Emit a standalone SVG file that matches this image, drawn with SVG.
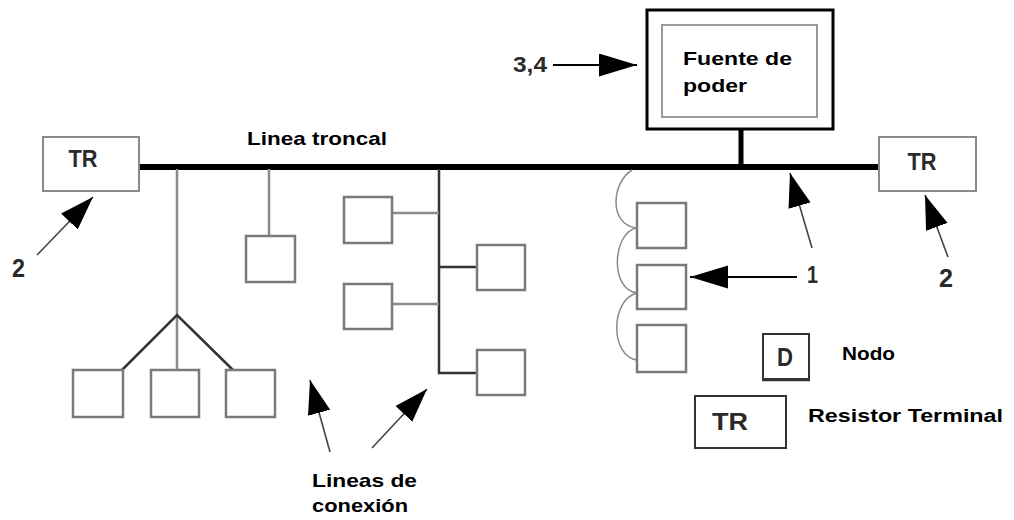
<svg xmlns="http://www.w3.org/2000/svg" width="1014" height="520" viewBox="0 0 1014 520">
<style>
.bx{fill:#fff;stroke:#7a7a7a;stroke-width:2.5}
.g{stroke:#8a8a8a;stroke-width:2.5;fill:none}
.d{stroke:#333;stroke-width:2.5;fill:none}
.cv{stroke:#8a8a8a;stroke-width:1.5;fill:none}
.b{font-family:"Liberation Sans",Arial,sans-serif;font-weight:bold;fill:#000}
.n{font-family:"Liberation Sans",Arial,sans-serif;font-weight:bold;fill:#2a2a2a}
.al{stroke:#444;stroke-width:1.6;fill:none}
.ak{stroke:#000;stroke-width:2.2;fill:none}
</style>
<defs>
<marker id="ah" markerUnits="userSpaceOnUse" markerWidth="40" markerHeight="24" refX="38" refY="11.5" orient="auto"><path d="M0,0 L38,11.5 L0,23 z" fill="#000"/></marker>
<marker id="ahs" markerUnits="userSpaceOnUse" markerWidth="36" markerHeight="24" refX="34" refY="11.5" orient="auto"><path d="M0,0 L34,11.5 L0,23 z" fill="#000"/></marker>
</defs>
<rect width="1014" height="520" fill="#fff"/>
<g id="connectors">
<line x1="133" y1="167" x2="881" y2="167" stroke="#000" stroke-width="6"/>
<line x1="741" y1="128" x2="741" y2="167" stroke="#000" stroke-width="5"/>
<line class="g" x1="177" y1="169" x2="177" y2="370"/>
<polyline class="d" points="122,370 177,315 233,370"/>
<line class="g" x1="269" y1="169" x2="269" y2="236"/>
<polyline class="d" points="439,169 439,373 477,373"/>
<line class="d" x1="439" y1="267" x2="477" y2="267"/>
<line class="g" x1="392" y1="213" x2="439" y2="213"/>
<line class="g" x1="392" y1="304" x2="439" y2="304"/>
<path class="cv" d="M632,170 C612,182 608,224 636,228"/>
<path class="cv" d="M636,228 C612,234 610,290 637,293"/>
<path class="cv" d="M637,293 C610,300 610,356 637,360"/>
<line class="ak" x1="553" y1="65" x2="637" y2="65" marker-end="url(#ah)"/>
<line class="ak" x1="797" y1="277" x2="690" y2="277" marker-end="url(#ah)"/>
<line class="al" x1="812" y1="248" x2="790" y2="173" marker-end="url(#ahs)"/>
<line class="al" x1="37" y1="255" x2="93" y2="197" marker-end="url(#ahs)"/>
<line class="al" x1="948" y1="257" x2="925" y2="195" marker-end="url(#ahs)"/>
<line class="al" x1="330" y1="452" x2="310" y2="380" marker-end="url(#ahs)"/>
<line class="al" x1="372" y1="448" x2="427" y2="389" marker-end="url(#ahs)"/>
</g>
<g id="tr-left"><rect x="43" y="137" width="96" height="54" fill="#fff" stroke="#8a8a8a" stroke-width="2"/><text class="n" x="83" y="167" font-size="24" text-anchor="middle" textLength="29" lengthAdjust="spacingAndGlyphs">TR</text></g>
<g id="tr-right"><rect x="879" y="137" width="97" height="54" fill="#fff" stroke="#8a8a8a" stroke-width="2"/><text class="n" x="922" y="170" font-size="24" text-anchor="middle" textLength="29" lengthAdjust="spacingAndGlyphs">TR</text></g>
<g id="power"><rect x="647" y="10" width="186" height="119" fill="#fff" stroke="#000" stroke-width="3"/><rect x="662" y="25" width="155" height="92" fill="#fff" stroke="#999" stroke-width="2"/><text class="b" x="683" y="65" font-size="19" textLength="109" lengthAdjust="spacingAndGlyphs">Fuente de</text><text class="b" x="683" y="92" font-size="19" textLength="64" lengthAdjust="spacingAndGlyphs">poder</text></g>
<g id="n1"><rect class="bx" x="73" y="370" width="50" height="47"/></g>
<g id="n2"><rect class="bx" x="151" y="370" width="48" height="47"/></g>
<g id="n3"><rect class="bx" x="226" y="370" width="49" height="47"/></g>
<g id="n4"><rect class="bx" x="246" y="236" width="49" height="46"/></g>
<g id="n5"><rect class="bx" x="344" y="197" width="48" height="46"/></g>
<g id="n6"><rect class="bx" x="344" y="284" width="48" height="45"/></g>
<g id="n7"><rect class="bx" x="477" y="245" width="48" height="45"/></g>
<g id="n8"><rect class="bx" x="477" y="350" width="48" height="45"/></g>
<g id="n9"><rect class="bx" x="637" y="203" width="49" height="45"/></g>
<g id="n10"><rect class="bx" x="637" y="265" width="49" height="44"/></g>
<g id="n11"><rect class="bx" x="637" y="325" width="49" height="47"/></g>
<g id="labels">
<text class="b" x="247" y="145" font-size="19" textLength="140" lengthAdjust="spacingAndGlyphs">Linea troncal</text>
<text class="n" x="513" y="72" font-size="22" textLength="34" lengthAdjust="spacingAndGlyphs">3,4</text>
<text class="n" x="12" y="277" font-size="26" textLength="13" lengthAdjust="spacingAndGlyphs">2</text>
<text class="n" x="939" y="287" font-size="25" textLength="14" lengthAdjust="spacingAndGlyphs">2</text>
<text class="n" x="807" y="283" font-size="24" textLength="11" lengthAdjust="spacingAndGlyphs">1</text>
<text class="b" x="312" y="487" font-size="19" textLength="105" lengthAdjust="spacingAndGlyphs">Lineas de</text>
<text class="b" x="312" y="512" font-size="19" textLength="96" lengthAdjust="spacingAndGlyphs">conexión</text>
</g>
<g id="legend-node"><rect x="763" y="334" width="46" height="45" fill="#fff" stroke="#333" stroke-width="2"/><line x1="762" y1="380" x2="810" y2="380" stroke="#333" stroke-width="2.5"/><text class="n" x="785" y="366" font-size="26" text-anchor="middle" textLength="16" lengthAdjust="spacingAndGlyphs">D</text><text class="b" x="842" y="360" font-size="18" textLength="53" lengthAdjust="spacingAndGlyphs">Nodo</text></g>
<g id="legend-tr"><rect x="695" y="396" width="91" height="52" fill="#fff" stroke="#333" stroke-width="2"/><text class="n" x="730" y="430" font-size="24" text-anchor="middle" textLength="36" lengthAdjust="spacingAndGlyphs">TR</text><text class="b" x="808" y="422" font-size="18" textLength="195" lengthAdjust="spacingAndGlyphs">Resistor Terminal</text></g>
</svg>
